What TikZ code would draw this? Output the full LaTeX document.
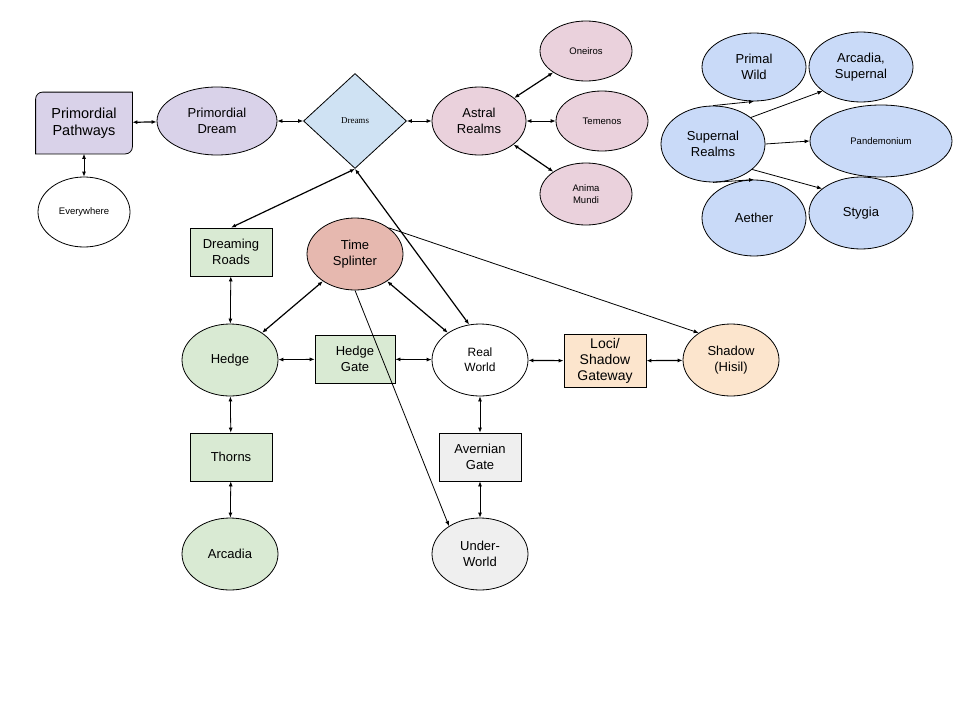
\documentclass[tikz,border=0pt]{standalone}
\usepackage{fontspec}
\setmainfont{Liberation Sans}
\newfontfamily\dreamfont{Liberation Serif}
\usetikzlibrary{shapes.geometric,arrows.meta,backgrounds}

\definecolor{mauve}{HTML}{D9D2E9}
\definecolor{rose}{HTML}{EAD1DC}
\definecolor{ciel}{HTML}{CFE2F3}
\definecolor{bleu}{HTML}{C9DAF8}
\definecolor{vert}{HTML}{D9EAD3}
\definecolor{brique}{HTML}{E6B8AF}
\definecolor{peche}{HTML}{FCE5CD}
\definecolor{gris}{HTML}{EFEFEF}

\begin{document}
\begin{tikzpicture}[x=1pt, y=-1pt,
  ell/.style={ellipse, draw, line width=0.8pt, inner sep=0pt, align=center, minimum width=96pt, minimum height=72pt, font=\fontsize{13}{15.5}\selectfont},
  boite/.style={rectangle, draw, line width=0.8pt, inner sep=0pt, align=center, minimum width=82pt, minimum height=48pt, font=\fontsize{13}{15.5}\selectfont},
  petit/.style={font=\fontsize{9.5}{12}\selectfont},
  lien/.style={line width=0.8pt, {Latex[length=5pt,width=4pt]}-{Latex[length=5pt,width=4pt]}},
  fleche/.style={line width=0.8pt, -{Latex[length=5pt,width=4pt]}},
  gras/.style={line width=1.2pt}]
  \useasboundingbox (0,0) rectangle (960,720);

  % Rêves
  \node[boite, draw=none, minimum width=96pt, minimum height=61pt, font=\fontsize{14.5}{17}\selectfont] (pp) at (84,123) {Primordial\\Pathways};
  \node[ell, petit, fill=white, minimum width=92pt, minimum height=70pt] (ev) at (84,212) {Everywhere};
  \node[ell, fill=mauve, minimum width=120pt, minimum height=68pt] (pd) at (217,121) {Primordial\\Dream};
  \node[diamond, draw, line width=0.8pt, fill=ciel, aspect=1.08, minimum width=103pt, minimum height=95pt, inner sep=0pt, font=\dreamfont\fontsize{9}{11}\selectfont] (dr) at (355,121) {Dreams};
  \node[ell, fill=rose, minimum width=94pt, minimum height=68pt] (ar) at (479,121) {Astral\\Realms};
  \node[ell, petit, fill=rose, minimum width=92pt, minimum height=60pt] (on) at (586,51) {Oneiros};
  \node[ell, petit, fill=rose, minimum width=92pt, minimum height=60pt] (te) at (602,121) {Temenos};
  \node[ell, petit, fill=rose, minimum width=92pt, minimum height=62pt] (am) at (586,194) {Anima\\Mundi};

  \begin{scope}[on background layer]
    \fill[white] (0,0) rectangle (960,720);
    \draw[fill=mauve, line width=0.8pt] (pp.south west) -- (pp.west) [rounded corners=7pt] -- (pp.north west) -- (pp.north)
      [sharp corners] -- (pp.north east) -- (pp.east) [rounded corners=7pt] -- (pp.south east) -- (pp.south) [sharp corners] -- cycle;
  \end{scope}

  % Royaumes supernels
  \node[ell, fill=bleu, minimum width=104pt, minimum height=76pt] (sr) at (713,144) {Supernal\\Realms};
  \node[ell, fill=bleu, minimum width=104pt, minimum height=68pt] (pw) at (754,67) {Primal\\Wild};
  \node[ell, fill=bleu, minimum width=104pt, minimum height=70pt] (as) at (861,67) {Arcadia,\\Supernal};
  \node[ell, petit, fill=bleu, minimum width=142pt, minimum height=72pt] (pa) at (881,141) {Pandemonium};
  \node[ell, fill=bleu, minimum width=104pt, minimum height=76pt] (ae) at (754,218) {Aether};
  \node[ell, fill=bleu, minimum width=104pt, minimum height=72pt] (sy) at (861,213) {Stygia};

  % Monde
  \node[boite, fill=vert] (rd) at (231,252) {Dreaming\\Roads};
  \node[ell, fill=brique] (ts) at (355,254) {Time\\Splinter};
  \node[ell, fill=vert] (he) at (230,360) {Hedge};
  \node[boite, fill=vert, minimum width=80pt] (hg) at (355,359) {Hedge\\Gate};
  \node[ell, fill=white, font=\fontsize{12}{15}\selectfont] (rw) at (480,360) {Real\\World};
  \node[boite, fill=peche, minimum height=53pt, font=\fontsize{14}{16}\selectfont] (lo) at (605,361) {Loci/\\Shadow\\Gateway};
  \node[ell, fill=peche] (sh) at (731,360) {Shadow\\(Hisil)};
  \node[boite, fill=vert] (th) at (231,457) {Thorns};
  \node[boite, fill=gris] (ag) at (480,457) {Avernian\\Gate};
  \node[ell, fill=vert] (ac) at (230,554) {Arcadia};
  \node[ell, fill=gris] (uw) at (480,554) {Under-\\World};

  % Flèches entre les noeuds
  \path[lien, gras] (pp) edge (pd);
  \path[lien] (pp) edge (ev);
  \path[lien] (pd) edge (dr);
  \path[lien] (dr) edge (ar);
  \path[lien, gras] (ar) edge (on);
  \path[lien] (ar) edge (te);
  \path[lien, gras] (ar) edge (am);
  \path[lien, gras] (dr.south) edge (rd.north);
  \path[lien, gras] (dr.south) edge (rw.107);
  \path[lien] (rd) edge (he);
  \path[lien, gras] (ts) edge (he);
  \path[lien, gras] (ts) edge (rw);
  \path[fleche] (ts.38) edge (sh.140);
  \path[fleche] (ts.south) edge (uw.138);
  \path[lien] (he) edge (hg);
  \path[lien] (hg) edge (rw);
  \path[lien, gras] (rw) edge (lo);
  \path[lien, gras] (lo) edge (sh);
  \path[lien] (he) edge (th);
  \path[lien] (th) edge (ac);
  \path[lien] (rw) edge (ag);
  \path[lien] (ag) edge (uw);

  \path[fleche] (sr.north) edge (pw.south);
  \path[fleche] (sr.35) edge (as.212);
  \path[fleche] (sr.east) edge (pa.west);
  \path[fleche] (sr.south) edge (ae.north);
  \path[fleche] (sr.-33) edge (sy.148);
\end{tikzpicture}
\end{document}
